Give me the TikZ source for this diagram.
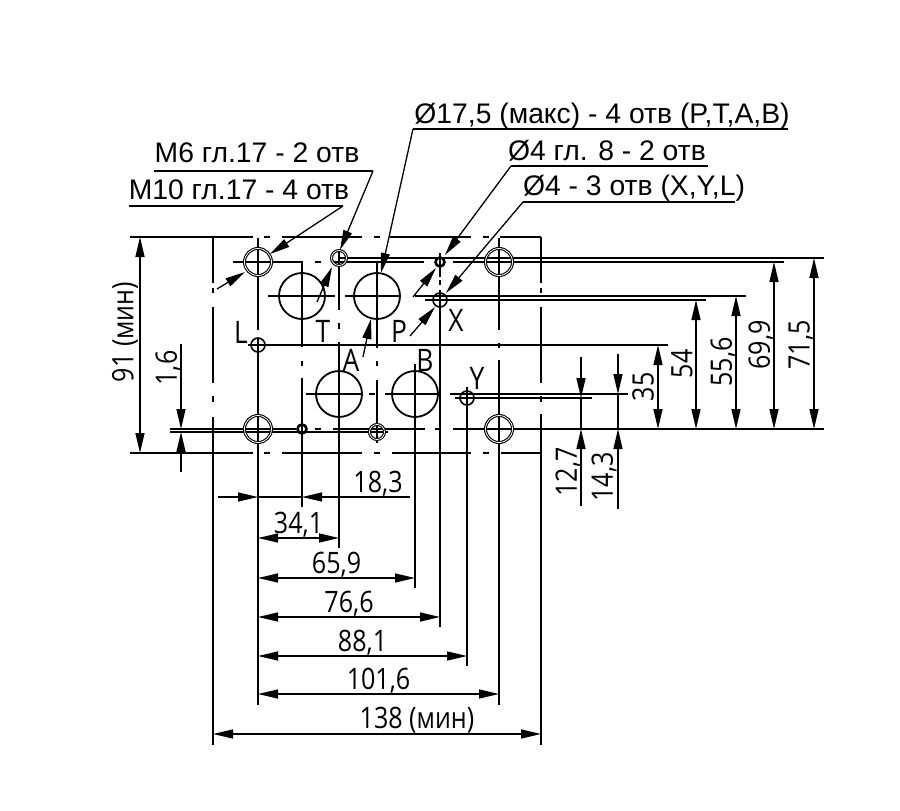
\documentclass[tikz,border=0pt]{standalone}
\usepackage{fontspec}
\setmainfont{Liberation Sans}
\newfontfamily\dimfont[FakeStretch=0.85]{Open Sans}
\usetikzlibrary{arrows.meta}
\tikzstyle{base} = [line width=1.3pt, line cap=butt]
\tikzstyle{tip} = [base, -{Triangle[length=20pt,width=9pt]}]
\tikzstyle{dimline} = [base, {Triangle[length=20pt,width=9pt]}-{Triangle[length=20pt,width=9pt]}]
\tikzstyle{callout} = [inner sep=0pt, anchor=base, font=\fontsize{28.3}{30}\selectfont]
\tikzstyle{dimtext} = [inner sep=0pt, font=\dimfont\fontsize{29.5}{31}\selectfont]
\tikzstyle{port} = [inner sep=0pt, font=\dimfont\fontsize{31}{32}\selectfont]
\tikzstyle{bigbore} = [circle, draw, line width=1.8pt, minimum size=46pt, inner sep=0pt]
\tikzstyle{mainbore} = [circle, draw, line width=1.1pt, double, double distance=.8pt, minimum size=27pt, inner sep=0pt]
\tikzstyle{smallbore} = [circle, draw, line width=1.6pt, minimum size=14pt, inner sep=0pt]
\tikzstyle{pinbore} = [circle, draw, line width=2.6pt, minimum size=9pt, inner sep=0pt]

\begin{document}
\begin{tikzpicture}[x=1pt, y=-1pt]
\useasboundingbox (0,0) rectangle (900,811);

% plate outline
\draw [base] (130,237) -- (253,237) (264,237) -- (270,237) (282,237) -- (362,237) (374,237) -- (380,237) (390,237) -- (471,237) (483,237) -- (489,237) (500,237) -- (541,237);
\draw [base] (130,453) -- (253,453) (264,453) -- (270,453) (282,453) -- (362,453) (374,453) -- (380,453) (392,453) -- (471,453) (483,453) -- (489,453) (501,453) -- (541,453);
\draw [base] (213,237) -- (213,283) (213,288) -- (213,293) (213,307) -- (213,383) (213,396) -- (213,402) (213,417) -- (213,745);
\draw [base] (541,237) -- (541,283) (541,288) -- (541,293) (541,307) -- (541,383) (541,396) -- (541,402) (541,414) -- (541,745);

% centre lines, vertical
\draw [base] (258,238) -- (258,330) (258,338) -- (258,705);
\draw [base] (302,262) -- (302,347) (302,361) -- (302,366) (302,378) -- (302,507);
\draw [base] (339,250) -- (339,310) (339,323) -- (339,329) (339,342) -- (339,548);
\draw [base] (377,262) -- (377,348) (377,361) -- (377,366) (377,380) -- (377,443);
\draw [base] (415,364) -- (415,588);
\draw [base] (440,253) -- (440,277) (440,280) -- (440,285) (440,290) -- (440,627);
\draw [base] (467,387) -- (467,666);
\draw [base] (499,238) -- (499,330) (499,343) -- (499,348) (499,360) -- (499,705);

% centre lines, horizontal
\draw [base] (338,258) -- (824,258);
\draw [base] (233,262) -- (303,262) (315,262) -- (321,262) (333,262) -- (424,262) (453,262) -- (784,262);
\draw [base] (268,296) -- (335,296) (345,296) -- (400,296) (415,296) -- (746,296);
\draw [base] (425,300) -- (706,300);
\draw [base] (248,345) -- (668,345);
\draw [base] (306,394) -- (362,394) (369,394) -- (375,394) (385,394) -- (440,394) (450,394) -- (628,394);
\draw [base] (455,398) -- (592,398);
\draw [base] (170,429) -- (296,429) (315,429) -- (321,429) (333,429) -- (425,429) (435,429) -- (441,429) (453,429) -- (824,429);
\draw [base] (170,432) -- (388,432);

% bores
\node (boreT) [bigbore] at (302,296) {};
\node (boreP) [bigbore] at (377,296) {};
\node (boreA) [bigbore] at (339,394) {};
\node (boreB) [bigbore] at (415,394) {};
\node (mainNW) [mainbore] at (258,262) {};
\node (mainNE) [mainbore] at (499,262) {};
\node (mainSW) [mainbore] at (258,429) {};
\node (mainSE) [mainbore] at (499,429) {};
\node (threadN) [mainbore, minimum size=15pt] at (339,258) {};
\node (threadS) [mainbore, minimum size=15pt] at (377,432) {};
\node (pinN) [pinbore] at (440,262) {};
\node (pinS) [pinbore] at (302,429) {};
\node (boreL) [smallbore] at (258,345) {};
\node (boreX) [smallbore] at (440,300) {};
\node (boreY) [smallbore] at (467,398) {};

% port letters
\node (portL) [port] at (241,332) {L};
\node (portT) [port] at (323,331) {T};
\node (portP) [port] at (399,331) {P};
\node (portX) [port] at (456,320) {X};
\node (portA) [port] at (351,360) {A};
\node (portB) [port] at (425,360) {B};
\node (portY) [port] at (477,378) {Y};

% callouts
\coordinate (kneeD) at (413,129);
\coordinate (kneeM) at (373,171);
\coordinate (kneeH) at (343,206);
\coordinate (kneeG) at (511,166);
\coordinate (kneeO) at (523,202);
\node (textD) [callout] at (602,123) {Ø17,5 (макс) - 4 отв (P,T,A,B)};
\node (textM) [callout] at (257,162) {М6 гл.17 - 2 отв};
\node (textH) [callout] at (239,199) {М10 гл.17 - 4 отв};
\node (textG) [callout] at (607,160) {Ø4 гл. 8 - 2 отв};
\node (textO) [callout] at (634,195) {Ø4 - 3 отв (X,Y,L)};
\draw [base] (kneeD) -- (788,129);
\draw [base] (154,171) -- (kneeM);
\draw [base] (129,206) -- (kneeH);
\draw [base] (kneeG) -- (708,166);
\draw [base] (kneeO) -- (735,202);
\draw [tip] (kneeD) -- (381,273);
\draw [tip] (363,357) -- (371,319);
\draw [tip] (kneeM) -- (340,250);
\draw [tip] (317,302) -- (332,267);
\draw [tip] (kneeH) -- (270,254);
\draw [tip] (217,289) -- (245,272);
\draw [tip] (kneeG) -- (445,255);
\draw [tip] (413,297) -- (436,268);
\draw [tip] (kneeO) -- (446,293);
\draw [tip] (410,336) -- (435,307);

% horizontal dimensions
\draw [tip] (218,497) -- (258,497);
\draw [tip] (410,497) -- (302,497);
\draw [base] (258,497) -- (302,497);
\node (dim183) [dimtext] at (378,484) {18,3};
\draw [dimline] (258,538) -- node[dimtext, above=0pt] {34,1} (339,538);
\draw [dimline] (258,578) -- node[dimtext, above=0pt] {65,9} (415,578);
\draw [dimline] (258,617) -- node[dimtext, above=0pt] {76,6} (440,617);
\draw [dimline] (258,656) -- node[dimtext, above=0pt] {88,1} (467,656);
\draw [dimline] (258,694) -- node[dimtext, above=0pt] {101,6} (499,694);
\draw [dimline] (213,734) -- (541,734);
\node (dim138) [dimtext] at (417,720) {138 (мин)};

% vertical dimensions
\draw [dimline] (140,237) -- (140,453);
\node (dim91) [dimtext, rotate=90] at (125,332) {91 (мин)};
\draw [tip] (181,344) -- (181,429);
\draw [tip] (181,472) -- (181,432);
\node (dim16) [dimtext, rotate=90] at (168,368) {1,6};
\draw [tip] (581,357) -- (581,398);
\draw [tip] (581,506) -- (581,429);
\draw [base] (581,398) -- (581,429);
\node (dim127) [dimtext, rotate=90] at (568,472) {12,7};
\draw [tip] (618,354) -- (618,394);
\draw [tip] (618,509) -- (618,429);
\draw [base] (618,394) -- (618,429);
\node (dim143) [dimtext, rotate=90] at (604,477) {14,3};
\draw [dimline] (658,345) -- (658,429);
\node (dim35) [dimtext, rotate=90] at (643,387) {35};
\draw [dimline] (696,300) -- (696,429);
\node (dim54) [dimtext, rotate=90] at (682,364) {54};
\draw [dimline] (736,296) -- (736,429);
\node (dim556) [dimtext, rotate=90] at (723,362) {55,6};
\draw [dimline] (774,262) -- (774,429);
\node (dim699) [dimtext, rotate=90] at (761,345) {69,9};
\draw [dimline] (814,258) -- (814,429);
\node (dim715) [dimtext, rotate=90] at (801,345) {71,5};
\end{tikzpicture}
\end{document}
